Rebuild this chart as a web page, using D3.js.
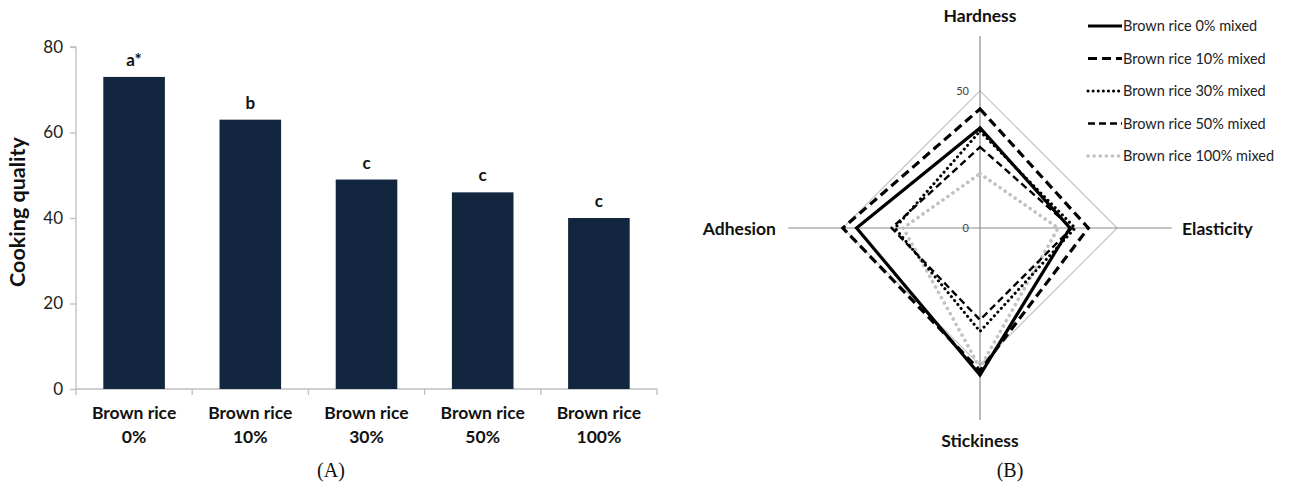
<!DOCTYPE html>
<html>
<head>
<meta charset="utf-8">
<script src="https://cdn.jsdelivr.net/npm/d3@7"></script>
<style>
  html, body { margin: 0; padding: 0; background: #fff; }
  svg { display: block; }
</style>
</head>
<body>
<svg id="chart" width="1291" height="487"></svg>
<script>
// ---- Panel A: cooking quality by brown rice ratio ----
const categories = ["Brown rice|0%", "Brown rice|10%", "Brown rice|30%", "Brown rice|50%", "Brown rice|100%"];
const cookingQuality = [73, 63, 49, 46, 40];
const significance = ["a*", "b", "c", "c", "c"];
const yTicks = [0, 20, 40, 60, 80];

// ---- Panel B: texture profile ----
const attributes = ["Hardness", "Elasticity", "Stickiness", "Adhesion"];
const seriesNames = ["Brown rice 0% mixed", "Brown rice 10% mixed", "Brown rice 30% mixed", "Brown rice 50% mixed", "Brown rice 100% mixed"];
const mix0   = [36.5, 32.8, 53.6, 45];
const mix10  = [43.4, 39.5, 52, 50];
const mix30  = [35.3, 34.7, 37.7, 31];
const mix50  = [29.5, 33.5, 33.5, 32.2];
const mix100 = [19.8, 28.5, 51, 28];
const radarRings = [0, 50];
const radarMax = 70;

const font = "Lato, 'Open Sans', sans-serif";
const svg = d3.select("#chart");

// ===== Bar chart =====
const bar = { left: 76, right: 657, top: 47, bottom: 389 };
const x = d3.scaleBand().domain(categories).range([bar.left, bar.right]).paddingInner(0.47).paddingOuter(0.235);
const y = d3.scaleLinear().domain([0, 80]).range([bar.bottom, bar.top]);

const gA = svg.append("g");

// y axis
const yAxis = gA.append("g").attr("transform", `translate(${bar.left},0)`)
  .call(d3.axisLeft(y).tickValues(yTicks).tickSize(6).tickPadding(7));
yAxis.select(".domain").attr("stroke", "#bfbfbf").attr("stroke-width", 1.3).attr("d", `M-6,${y(80)}H0V${y(0)}`);
yAxis.selectAll(".tick line").attr("stroke", "#bfbfbf").attr("stroke-width", 1.3);
yAxis.selectAll(".tick text").attr("font-family", font).attr("font-size", 17).attr("fill", "#222");

// x axis with category boundaries as ticks
const xAxisG = gA.append("g").attr("transform", `translate(0,${bar.bottom})`);
xAxisG.append("line").attr("x1", bar.left).attr("x2", bar.right).attr("stroke", "#bfbfbf").attr("stroke-width", 1.3);
const step = x.step();
const bounds = d3.range(categories.length + 1).map(i => bar.left + i * step);
xAxisG.selectAll("line.tk").data(bounds).join("line").attr("class", "tk")
  .attr("x1", d => d).attr("x2", d => d).attr("y1", 0).attr("y2", 6)
  .attr("stroke", "#bfbfbf").attr("stroke-width", 1.3);
const xl = xAxisG.selectAll("text.cat").data(categories).join("text").attr("class", "cat")
  .attr("x", d => x(d) + x.bandwidth() / 2)
  .attr("text-anchor", "middle").attr("font-family", font).attr("font-weight", "bold")
  .attr("font-size", 17.5).attr("fill", "#111");
xl.append("tspan").attr("x", d => x(d) + x.bandwidth() / 2).attr("y", 30).text(d => d.split("|")[0]);
xl.append("tspan").attr("x", d => x(d) + x.bandwidth() / 2).attr("y", 54).text(d => d.split("|")[1]);

// bars
gA.selectAll("rect.bar").data(cookingQuality).join("rect").attr("class", "bar")
  .attr("x", (d, i) => x(categories[i]))
  .attr("width", x.bandwidth())
  .attr("y", d => y(d))
  .attr("height", d => y(0) - y(d))
  .attr("fill", "#13263f");

// significance letters
gA.selectAll("text.sig").data(cookingQuality).join("text").attr("class", "sig")
  .attr("x", (d, i) => x(categories[i]) + x.bandwidth() / 2)
  .attr("y", d => y(d) - 11)
  .attr("text-anchor", "middle").attr("font-family", font).attr("font-weight", "bold")
  .attr("font-size", 17).attr("fill", "#111")
  .text((d, i) => significance[i]);

// y title
gA.append("text").attr("transform", `translate(25,${(bar.top + bar.bottom) / 2 - 6}) rotate(-90)`)
  .attr("text-anchor", "middle").attr("font-family", font).attr("font-weight", "bold")
  .attr("font-size", 21.5).attr("fill", "#111").text("Cooking quality");

// panel caption
svg.append("text").attr("x", 331).attr("y", 477).attr("text-anchor", "middle")
  .attr("font-family", "'Liberation Serif', 'DejaVu Serif', serif").attr("font-size", 20)
  .attr("fill", "#111").text("(A)");

// ===== Radar chart =====
const cx = 980, cy = 228;
const r = d3.scaleLinear().domain([0, radarMax]).range([0, 192]);
const angle = i => (i / attributes.length) * 2 * Math.PI; // 0 = up, clockwise
const pt = (v, i) => [cx + r(v) * Math.sin(angle(i)), cy - r(v) * Math.cos(angle(i))];

const gB = svg.append("g");

// grid ring at 50
gB.append("path")
  .attr("d", d3.line()(attributes.map((a, i) => pt(50, i))) + "Z")
  .attr("fill", "none").attr("stroke", "#c4c4c4").attr("stroke-width", 1.2);

// spokes
gB.selectAll("line.spoke").data(attributes).join("line").attr("class", "spoke")
  .attr("x1", cx).attr("y1", cy)
  .attr("x2", (d, i) => pt(radarMax, i)[0]).attr("y2", (d, i) => pt(radarMax, i)[1])
  .attr("stroke", "#8c8c8c").attr("stroke-width", 1.2);

// ring labels
gB.selectAll("text.ring").data(radarRings).join("text").attr("class", "ring")
  .attr("x", cx - 11).attr("y", d => cy - r(d) + 4)
  .attr("text-anchor", "end").attr("font-family", font).attr("font-size", 11).attr("fill", "#444")
  .text(d => d);

// attribute labels
const labelPos = [
  { x: cx, y: 22, anchor: "middle" },
  { x: 1182, y: 235, anchor: "start" },
  { x: cx, y: 447, anchor: "middle" },
  { x: 776, y: 235, anchor: "end" }
];
gB.selectAll("text.attr").data(attributes).join("text").attr("class", "attr")
  .attr("x", (d, i) => labelPos[i].x).attr("y", (d, i) => labelPos[i].y)
  .attr("text-anchor", (d, i) => labelPos[i].anchor)
  .attr("font-family", font).attr("font-weight", "bold").attr("font-size", 17.5).attr("fill", "#111")
  .text(d => d);

// series styles
const series = [
  { name: seriesNames[0], values: mix0,   color: "#000", width: 3.2, dash: null,  cap: "butt" },
  { name: seriesNames[1], values: mix10,  color: "#000", width: 3.2, dash: "9,5", cap: "butt" },
  { name: seriesNames[2], values: mix30,  color: "#000", width: 3.0, dash: "0.1,5", cap: "round" },
  { name: seriesNames[3], values: mix50,  color: "#000", width: 2.4, dash: "7,4", cap: "butt" },
  { name: seriesNames[4], values: mix100, color: "#c2c2c2", width: 3.6, dash: "0.1,6", cap: "round" }
];

const drawOrder = [4, 3, 2, 1, 0];
gB.selectAll("path.series").data(drawOrder.map(i => series[i])).join("path").attr("class", "series")
  .attr("d", s => d3.line()(s.values.map((v, i) => pt(v, i))) + "Z")
  .attr("fill", "none").attr("stroke", s => s.color).attr("stroke-width", s => s.width)
  .attr("stroke-dasharray", s => s.dash).attr("stroke-linecap", s => s.cap)
  .attr("stroke-linejoin", "miter");

// legend
const lg = gB.append("g").attr("transform", "translate(1088,26)");
const rows = lg.selectAll("g").data(series).join("g").attr("transform", (d, i) => `translate(0,${i * 32.5})`);
rows.append("line").attr("x1", 0).attr("x2", 34).attr("y1", 0).attr("y2", 0)
  .attr("stroke", s => s.color).attr("stroke-width", s => s.width)
  .attr("stroke-dasharray", s => s.dash).attr("stroke-linecap", s => s.cap);
rows.append("text").attr("x", 35).attr("y", 5).attr("font-family", font).attr("font-size", 14.5)
  .attr("fill", "#222").text(s => s.name);

// panel caption
svg.append("text").attr("x", 1010).attr("y", 477).attr("text-anchor", "middle")
  .attr("font-family", "'Liberation Serif', 'DejaVu Serif', serif").attr("font-size", 20)
  .attr("fill", "#111").text("(B)");
</script>
</body>
</html>
